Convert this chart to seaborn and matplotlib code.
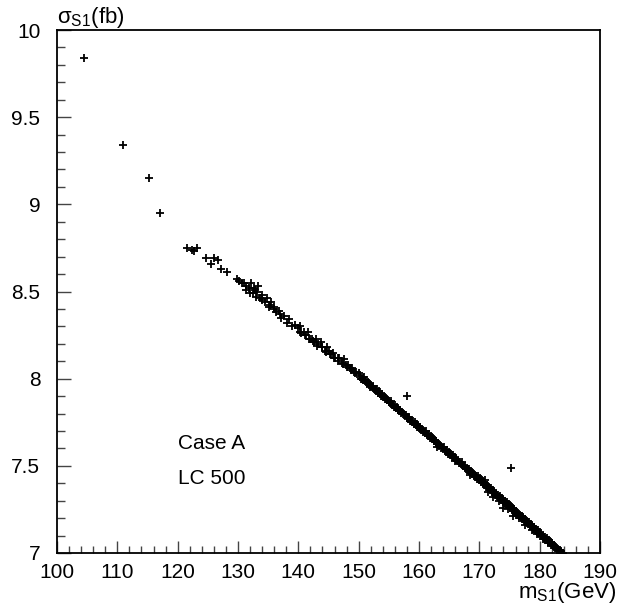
import pandas as pd
import matplotlib
matplotlib.use("Agg")
import matplotlib.pyplot as plt
from matplotlib.ticker import MultipleLocator
import seaborn as sns

# isolated points at low mass and the outliers
iso_m = [104.5, 111.0, 115.2, 117.0, 121.5, 122.3, 122.7, 123.2, 124.7, 125.5, 126.0, 126.7,
         127.2, 128.2, 129.8, 130.2, 130.6, 158.0, 175.3]
iso_s = [9.84, 9.34, 9.15, 8.95, 8.75, 8.74, 8.73, 8.75, 8.69, 8.66, 8.69, 8.68,
         8.63, 8.61, 8.57, 8.56, 8.55, 7.90, 7.49]

# main band, 131 - 140 GeV
band1_m = [131.0, 131.3, 131.4, 131.9, 132.0, 132.2, 132.5, 132.6, 132.8, 133.0, 133.1, 133.3,
           133.6, 133.9, 134.0, 134.4, 134.8, 135.1, 135.3, 135.5, 135.9, 136.0, 136.3, 136.8,
           137.0, 137.2, 137.6, 138.1, 138.5, 139.0, 139.4, 139.9]
band1_s = [8.55, 8.51, 8.53, 8.52, 8.49, 8.55, 8.49, 8.52, 8.51, 8.47, 8.50, 8.53,
           8.46, 8.45, 8.48, 8.44, 8.46, 8.41, 8.42, 8.44, 8.40, 8.41, 8.38, 8.39,
           8.37, 8.35, 8.36, 8.32, 8.34, 8.30, 8.31, 8.29]

# 140 - 150 GeV
band2_m = [140.2, 140.5, 140.9, 141.2, 141.6, 141.9, 142.3, 142.6, 143.0, 143.3, 143.7, 144.0,
           144.4, 144.7, 145.1, 145.4, 145.8, 146.1, 146.5, 146.8, 147.2, 147.5, 147.9, 148.2,
           148.6, 148.9, 149.3, 149.6, 150.0,
           140.35, 141.05, 141.75, 142.45, 143.15, 143.85, 144.55, 145.25, 145.95, 146.65,
           147.35, 148.05, 148.75, 149.45]
band2_s = [8.30, 8.26, 8.27, 8.25, 8.27, 8.23, 8.23, 8.21, 8.23, 8.20, 8.21, 8.18,
           8.16, 8.18, 8.16, 8.14, 8.15, 8.12, 8.12, 8.12, 8.09, 8.11, 8.08, 8.08,
           8.06, 8.06, 8.04, 8.04, 8.03,
           8.27, 8.25, 8.23, 8.215, 8.19, 8.18, 8.155, 8.14, 8.12, 8.10,
           8.085, 8.065, 8.05, 8.03]

# 150 - 160 GeV
band3_m = [150.3, 150.6, 150.9, 151.2, 151.5, 151.8, 152.1, 152.4, 152.7, 153.0, 153.3, 153.6,
           153.9, 154.2, 154.5, 154.8, 155.1, 155.4, 155.7, 156.0, 156.3, 156.6, 156.9, 157.2,
           157.5, 157.8, 158.1, 158.4, 158.7, 159.0, 159.3, 159.6, 159.9,
           150.15, 150.45, 150.75, 151.05, 151.35, 151.65, 151.95, 152.25, 152.55, 152.85,
           153.15, 153.45, 153.75, 154.05, 154.35, 154.65, 154.95, 155.25, 155.55, 155.85,
           156.15, 156.45, 156.75, 157.05, 157.35, 157.65, 157.95, 158.25, 158.55, 158.85,
           159.15, 159.45, 159.75]
band3_s = [8.02, 8.00, 8.01, 7.99, 7.98, 7.97, 7.96, 7.96, 7.94, 7.94, 7.93, 7.91,
           7.91, 7.90, 7.89, 7.88, 7.87, 7.87, 7.85, 7.85, 7.84, 7.82, 7.82, 7.81,
           7.80, 7.79, 7.78, 7.78, 7.76, 7.76, 7.75, 7.74, 7.73,
           8.01, 8.00, 7.99, 7.985, 7.975, 7.965, 7.955, 7.95, 7.94, 7.93,
           7.92, 7.915, 7.90, 7.895, 7.885, 7.875, 7.865, 7.86, 7.85, 7.84,
           7.83, 7.825, 7.815, 7.805, 7.795, 7.79, 7.775, 7.77, 7.76, 7.75,
           7.74, 7.735, 7.725]

# 160 - 170 GeV
band4_m = [160.2, 160.5, 160.8, 161.1, 161.4, 161.7, 162.0, 162.3, 162.6, 162.9, 163.0, 163.2,
           163.5, 163.8, 164.1, 164.4, 164.7, 165.0, 165.3, 165.6, 165.9, 166.0, 166.2, 166.5,
           166.8, 167.1, 167.4, 167.7, 168.0, 168.3, 168.5, 168.6, 168.9, 169.2, 169.5, 169.8,
           160.05, 160.35, 160.65, 160.95, 161.25, 161.55, 161.85, 162.15, 162.45, 162.75,
           163.05, 163.35, 163.65, 163.95, 164.25, 164.55, 164.85, 165.15, 165.45, 165.75,
           166.05, 166.35, 166.65, 166.95, 167.25, 167.55, 167.85, 168.15, 168.45, 168.75,
           169.05, 169.35, 169.65, 169.95]
band4_s = [7.72, 7.71, 7.70, 7.70, 7.68, 7.68, 7.67, 7.66, 7.65, 7.64, 7.61, 7.63,
           7.62, 7.61, 7.61, 7.59, 7.59, 7.58, 7.57, 7.56, 7.55, 7.53, 7.54, 7.53,
           7.52, 7.52, 7.50, 7.50, 7.49, 7.48, 7.45, 7.47, 7.46, 7.45, 7.44, 7.44,
           7.715, 7.705, 7.695, 7.69, 7.68, 7.67, 7.66, 7.655, 7.64, 7.635,
           7.625, 7.615, 7.605, 7.60, 7.59, 7.58, 7.57, 7.565, 7.55, 7.545,
           7.535, 7.525, 7.515, 7.51, 7.50, 7.49, 7.48, 7.475, 7.46, 7.455,
           7.445, 7.435, 7.425, 7.42]

# 170 - 184 GeV
band5_m = [170.1, 170.4, 170.7, 171.0, 171.0, 171.3, 171.5, 171.6, 171.9, 172.2, 172.3, 172.5,
           172.8, 173.1, 173.2, 173.4, 173.7, 174.0, 174.0, 174.3, 174.6, 174.8, 174.9, 175.2,
           175.5, 175.6, 175.8, 176.1, 176.4, 176.5, 176.7, 177.0, 177.3, 177.6, 177.6, 177.9,
           178.2, 178.5, 178.8, 178.8, 179.1, 179.4, 179.5, 179.7, 180.0, 180.3, 180.5, 180.6,
           180.9, 181.2, 181.3, 181.5, 181.8, 182.1, 182.4, 182.7, 183.0, 183.3, 183.6, 183.9,
           170.25, 170.55, 170.85, 171.15, 171.45, 171.75, 172.05, 172.35, 172.65, 172.95,
           173.25, 173.55, 173.85, 174.15, 174.45, 174.75, 175.05, 175.35, 175.65, 175.95,
           176.25, 176.55, 176.85, 177.15, 177.45, 177.75, 178.05, 178.35, 178.65, 178.95,
           179.25, 179.55, 179.85, 180.15, 180.45, 180.75, 181.05, 181.35, 181.65, 181.95,
           182.25, 182.55, 182.85, 183.15, 183.45, 183.75]
band5_s = [7.43, 7.42, 7.41, 7.42, 7.40, 7.39, 7.35, 7.38, 7.37, 7.36, 7.32, 7.35,
           7.34, 7.335, 7.30, 7.325, 7.315, 7.305, 7.26, 7.30, 7.29, 7.25, 7.28, 7.27,
           7.26, 7.21, 7.25, 7.24, 7.23, 7.20, 7.22, 7.215, 7.205, 7.195, 7.16, 7.185,
           7.175, 7.165, 7.155, 7.13, 7.15, 7.14, 7.11, 7.13, 7.12, 7.11, 7.08, 7.10,
           7.09, 7.085, 7.06, 7.075, 7.065, 7.055, 7.045, 7.035, 7.025, 7.02, 7.01, 7.00,
           7.41, 7.40, 7.39, 7.38, 7.37, 7.36, 7.35, 7.345, 7.335, 7.325,
           7.315, 7.305, 7.295, 7.285, 7.28, 7.27, 7.26, 7.25, 7.24, 7.23,
           7.22, 7.215, 7.205, 7.195, 7.185, 7.175, 7.165, 7.155, 7.15, 7.14,
           7.13, 7.12, 7.11, 7.10, 7.095, 7.085, 7.075, 7.065, 7.055, 7.045,
           7.04, 7.03, 7.02, 7.01, 7.005, 7.0]

mass = iso_m + band1_m + band2_m + band3_m + band4_m + band5_m
sigma = iso_s + band1_s + band2_s + band3_s + band4_s + band5_s
df = pd.DataFrame({"m": mass, "sigma": sigma})

sns.set_style("ticks")
plt.rcParams["font.family"] = ["Liberation Sans", "DejaVu Sans"]
plt.rcParams["mathtext.fontset"] = "custom"
plt.rcParams["mathtext.rm"] = "Liberation Sans"
plt.rcParams["mathtext.it"] = "Liberation Sans:italic"
plt.rcParams["text.color"] = "black"

fig = plt.figure(figsize=(6.39, 6.08), dpi=100)
ax = fig.add_axes([57 / 639, 55 / 608, 543 / 639, 523 / 608])

sns.scatterplot(data=df, x="m", y="sigma", marker="+", color="black",
                s=36, linewidth=1.3, ax=ax, legend=False)

ax.set_xlim(100, 190)
ax.set_ylim(7, 10)
ax.xaxis.set_major_locator(MultipleLocator(10))
ax.xaxis.set_minor_locator(MultipleLocator(2))
ax.yaxis.set_major_locator(MultipleLocator(0.5))
ax.yaxis.set_minor_locator(MultipleLocator(0.1))
ax.set_yticks([7, 7.5, 8, 8.5, 9, 9.5, 10])
ax.set_yticklabels(["7", "7.5", "8", "8.5", "9", "9.5", "10"])
ax.tick_params(which="both", direction="in", top=False, right=False, width=1,
               labelsize=15, color="#444444", labelcolor="black")
ax.tick_params(axis="x", which="major", length=9, pad=7)
ax.tick_params(axis="x", which="minor", length=5)
ax.tick_params(axis="y", which="major", length=10, pad=12)
ax.tick_params(axis="y", which="minor", length=6)
for sp in ax.spines.values():
    sp.set_linewidth(1.3)
    sp.set_color("black")
ax.set_xlabel("")
ax.set_ylabel("")

fig.text(57 / 639, 1 - 23 / 608, "σ$_{\\rm S1}$(fb)", fontsize=16,
         ha="left", va="baseline")
fig.text(616 / 639, 1 - 598 / 608, "m$_{\\rm S1}$(GeV)", fontsize=16,
         ha="right", va="baseline")

ax.text(120.1, 7.63, "Case A", fontsize=15, va="center", ha="left")
ax.text(120.1, 7.43, "LC 500", fontsize=15, va="center", ha="left")

fig.savefig("out.png", dpi=100)
